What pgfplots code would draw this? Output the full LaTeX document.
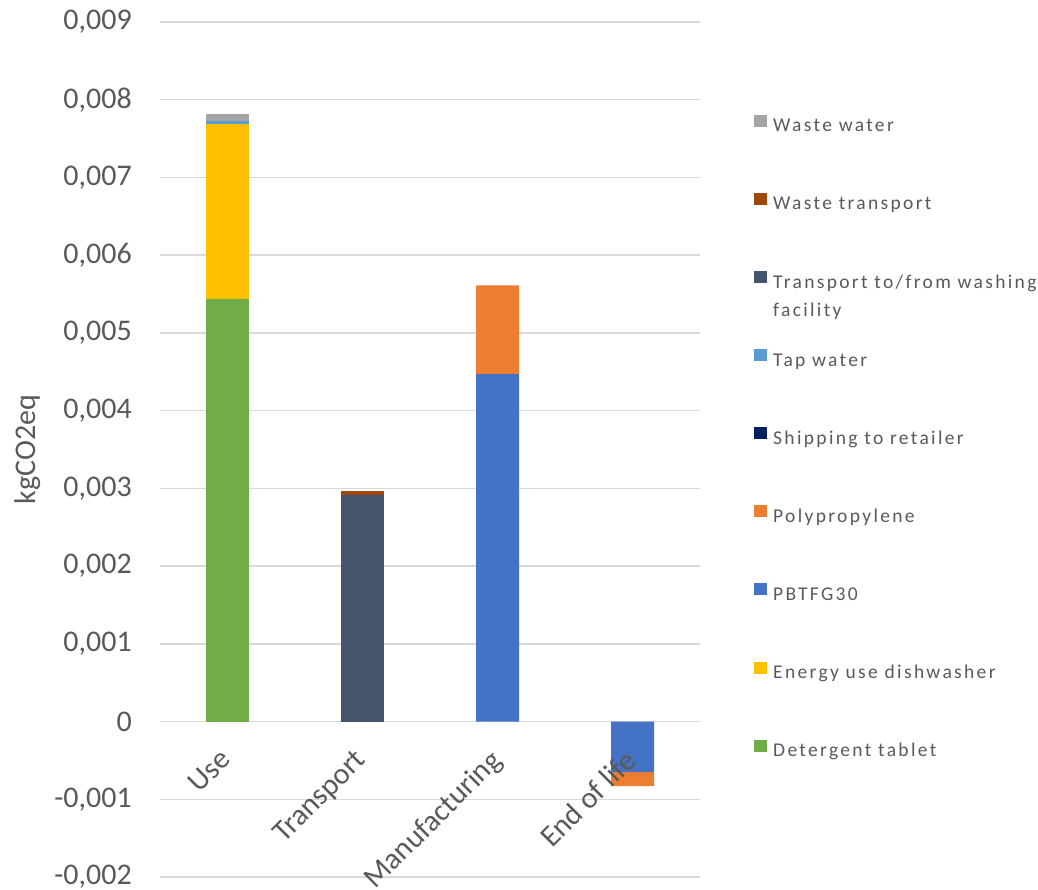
\documentclass[border=0pt]{standalone}
\usepackage{pgfplots}
\pgfplotsset{compat=1.18}
\usepackage{fontspec}
\setmainfont{Carlito}
\newfontfamily\legfont[LetterSpace=12]{Carlito}
\definecolor{txt}{HTML}{595959}
\definecolor{gridc}{HTML}{D9D9D9}
\definecolor{cWW}{HTML}{A5A5A5}
\definecolor{cWT}{HTML}{9E480E}
\definecolor{cTR}{HTML}{44546A}
\definecolor{cTAP}{HTML}{5B9BD5}
\definecolor{cSHIP}{HTML}{002060}
\definecolor{cPP}{HTML}{ED7D31}
\definecolor{cPBT}{HTML}{4472C4}
\definecolor{cEN}{HTML}{FFC000}
\definecolor{cDET}{HTML}{70AD47}
\newcommand{\legent}[1]{\raisebox{0pt}[14pt][5pt]{#1}}
\tikzset{catlabel/.style={font=\fontsize{30}{36}\selectfont, text=txt, inner sep=0pt, yshift=-26pt, xshift=-9pt, rotate=45, anchor=north east}}
\begin{document}
\begin{tikzpicture}
\useasboundingbox (-160pt,-12pt) rectangle (878pt,877pt);
\begin{axis}[
  at={(0pt,0pt)}, anchor=south west,
  scale only axis, width=540pt, height=855pt,
  ybar stacked, bar width=43pt,
  xmin=-0.5, xmax=3.5,
  ymin=-0.002, ymax=0.009,
  ytick={-0.002,-0.001,0,0.001,0.002,0.003,0.004,0.005,0.006,0.007,0.008,0.009},
  xtick={0,1,2,3},
  xticklabels={Use,Transport,Manufacturing,{}},
  axis x line*=middle,
  axis y line*=left,
  y axis line style={draw=none},
  x axis line style={draw=gridc, line width=1.5pt},
  ymajorgrids,
  grid style={draw=gridc, line width=1.5pt},
  major tick length=0pt,
  scaled y ticks=false,
  /pgf/number format/assume math mode=true,
  /pgf/number format/fixed,
  /pgf/number format/precision=3,
  /pgf/number format/use comma,
  every y tick label/.append style={font=\fontsize{30}{36}\selectfont, text=txt, inner sep=0pt, xshift=-28pt},
  every x tick label/.append style={catlabel},
  ylabel={kgCO2eq},
  every axis y label/.style={at={(axis description cs:-0.2454,0.5)}, anchor=center, rotate=90, font=\fontsize{30}{36}\selectfont, text=txt},
  legend style={at={(axis description cs:1.1,0.892)}, anchor=north west, draw=none, fill=none, inner sep=0pt, row sep=57.4pt, column sep=0pt, font=\legfont\fontsize{19.5}{28}\selectfont, text=txt},
  legend cell align=left,
  reverse legend,
  legend image code/.code={\fill[#1] (0pt,-1pt) rectangle (13pt,11pt); \path (0pt,0pt) -- (17pt,0pt);},
]
\addplot[fill=cDET, draw=none] coordinates {(0,5.44e-3) (1,0) (2,0) (3,0)};
\addlegendentry{\legent{Detergent tablet}}
\addplot[fill=cEN, draw=none] coordinates {(0,2.25e-3) (1,0) (2,0) (3,0)};
\addlegendentry{\legent{Energy use dishwasher}}
\addplot[fill=cPBT, draw=none] coordinates {(0,0) (1,0) (2,4.47e-3) (3,-0.65e-3)};
\addlegendentry{\legent{PBTFG30}}
\addplot[fill=cPP, draw=none] coordinates {(0,0) (1,0) (2,1.14e-3) (3,-0.18e-3)};
\addlegendentry{\legent{Polypropylene}}
\addplot[fill=cSHIP, draw=none] coordinates {(0,0) (1,0) (2,0) (3,0)};
\addlegendentry{\legent{Shipping to retailer}}
\addplot[fill=cTAP, draw=none] coordinates {(0,0.035e-3) (1,0) (2,0) (3,0)};
\addlegendentry{\legent{Tap water}}
\addplot[fill=cTR, draw=none] coordinates {(0,0) (1,2.91e-3) (2,0) (3,0)};
\addlegendentry{\legent{\begin{tabular}[t]{@{}l@{}}Transport to/from washing\\facility\end{tabular}}}
\addplot[fill=cWT, draw=none] coordinates {(0,0) (1,0.05e-3) (2,0) (3,0)};
\addlegendentry{\legent{Waste transport}}
\addplot[fill=cWW, draw=none] coordinates {(0,0.09e-3) (1,0) (2,0) (3,0)};
\addlegendentry{\legent{Waste water}}
\coordinate (eol) at (axis cs:3,0);
\end{axis}
\node[catlabel] at (eol) {End of life};
\end{tikzpicture}
\end{document}
